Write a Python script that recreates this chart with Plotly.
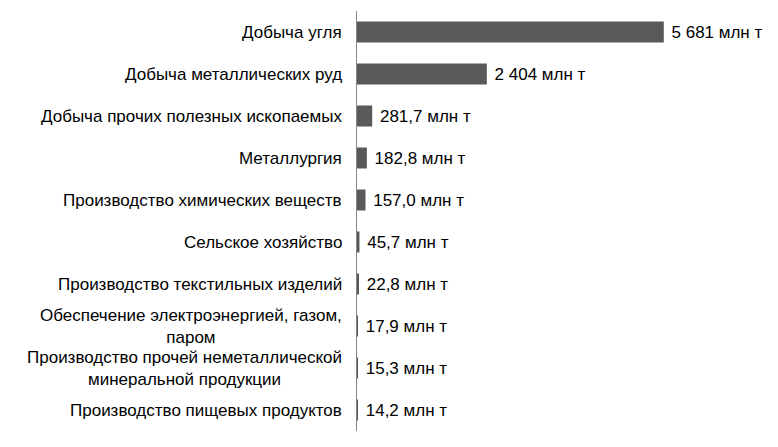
import plotly.graph_objects as go

# Отрасли и объёмы (млн т)
categories = [
    "Добыча угля",
    "Добыча металлических руд",
    "Добыча прочих полезных ископаемых",
    "Металлургия",
    "Производство химических веществ",
    "Сельское хозяйство",
    "Производство текстильных изделий",
    "Обеспечение электроэнергией, газом,<br>паром",
    "Производство прочей неметаллической<br>минеральной продукции",
    "Производство пищевых продуктов",
]
values = [5681, 2404, 281.7, 182.8, 157.0, 45.7, 22.8, 17.9, 15.3, 14.2]
value_labels = ["5 681 млн т", "2 404 млн т", "281,7 млн т", "182,8 млн т", "157,0 млн т",
                "45,7 млн т", "22,8 млн т", "17,9 млн т", "15,3 млн т", "14,2 млн т"]

font = dict(family="Liberation Sans, Arial, sans-serif", size=17, color="#000000")

fig = go.Figure()
fig.add_trace(go.Bar(
    x=values, y=categories, orientation="h",
    marker=dict(color="#595959", line=dict(width=0)),
    text=["\u00a0" + t for t in value_labels],
    textposition="outside", textfont=font, cliponaxis=False,
))

# подписи категорий (строки по центру, как в оригинале)
for c in categories:
    fig.add_annotation(x=0, xref="paper", y=c, yref="y", text=c, showarrow=False,
                       xanchor="right", align="center", xshift=-13, font=font)

# страница сдвигает график на 8px (отступ body), поэтому поля меньше
fig.update_layout(
    width=778, height=447,
    margin=dict(l=349, r=16, t=3, b=24),
    plot_bgcolor="white", paper_bgcolor="white",
    showlegend=False, bargap=0.5,
    xaxis=dict(range=[0, 7648], visible=False),
    yaxis=dict(autorange="reversed", showticklabels=False, ticks="",
               showline=True, linecolor="#868686", linewidth=1, showgrid=False),
)

fig.write_html("out.html")
